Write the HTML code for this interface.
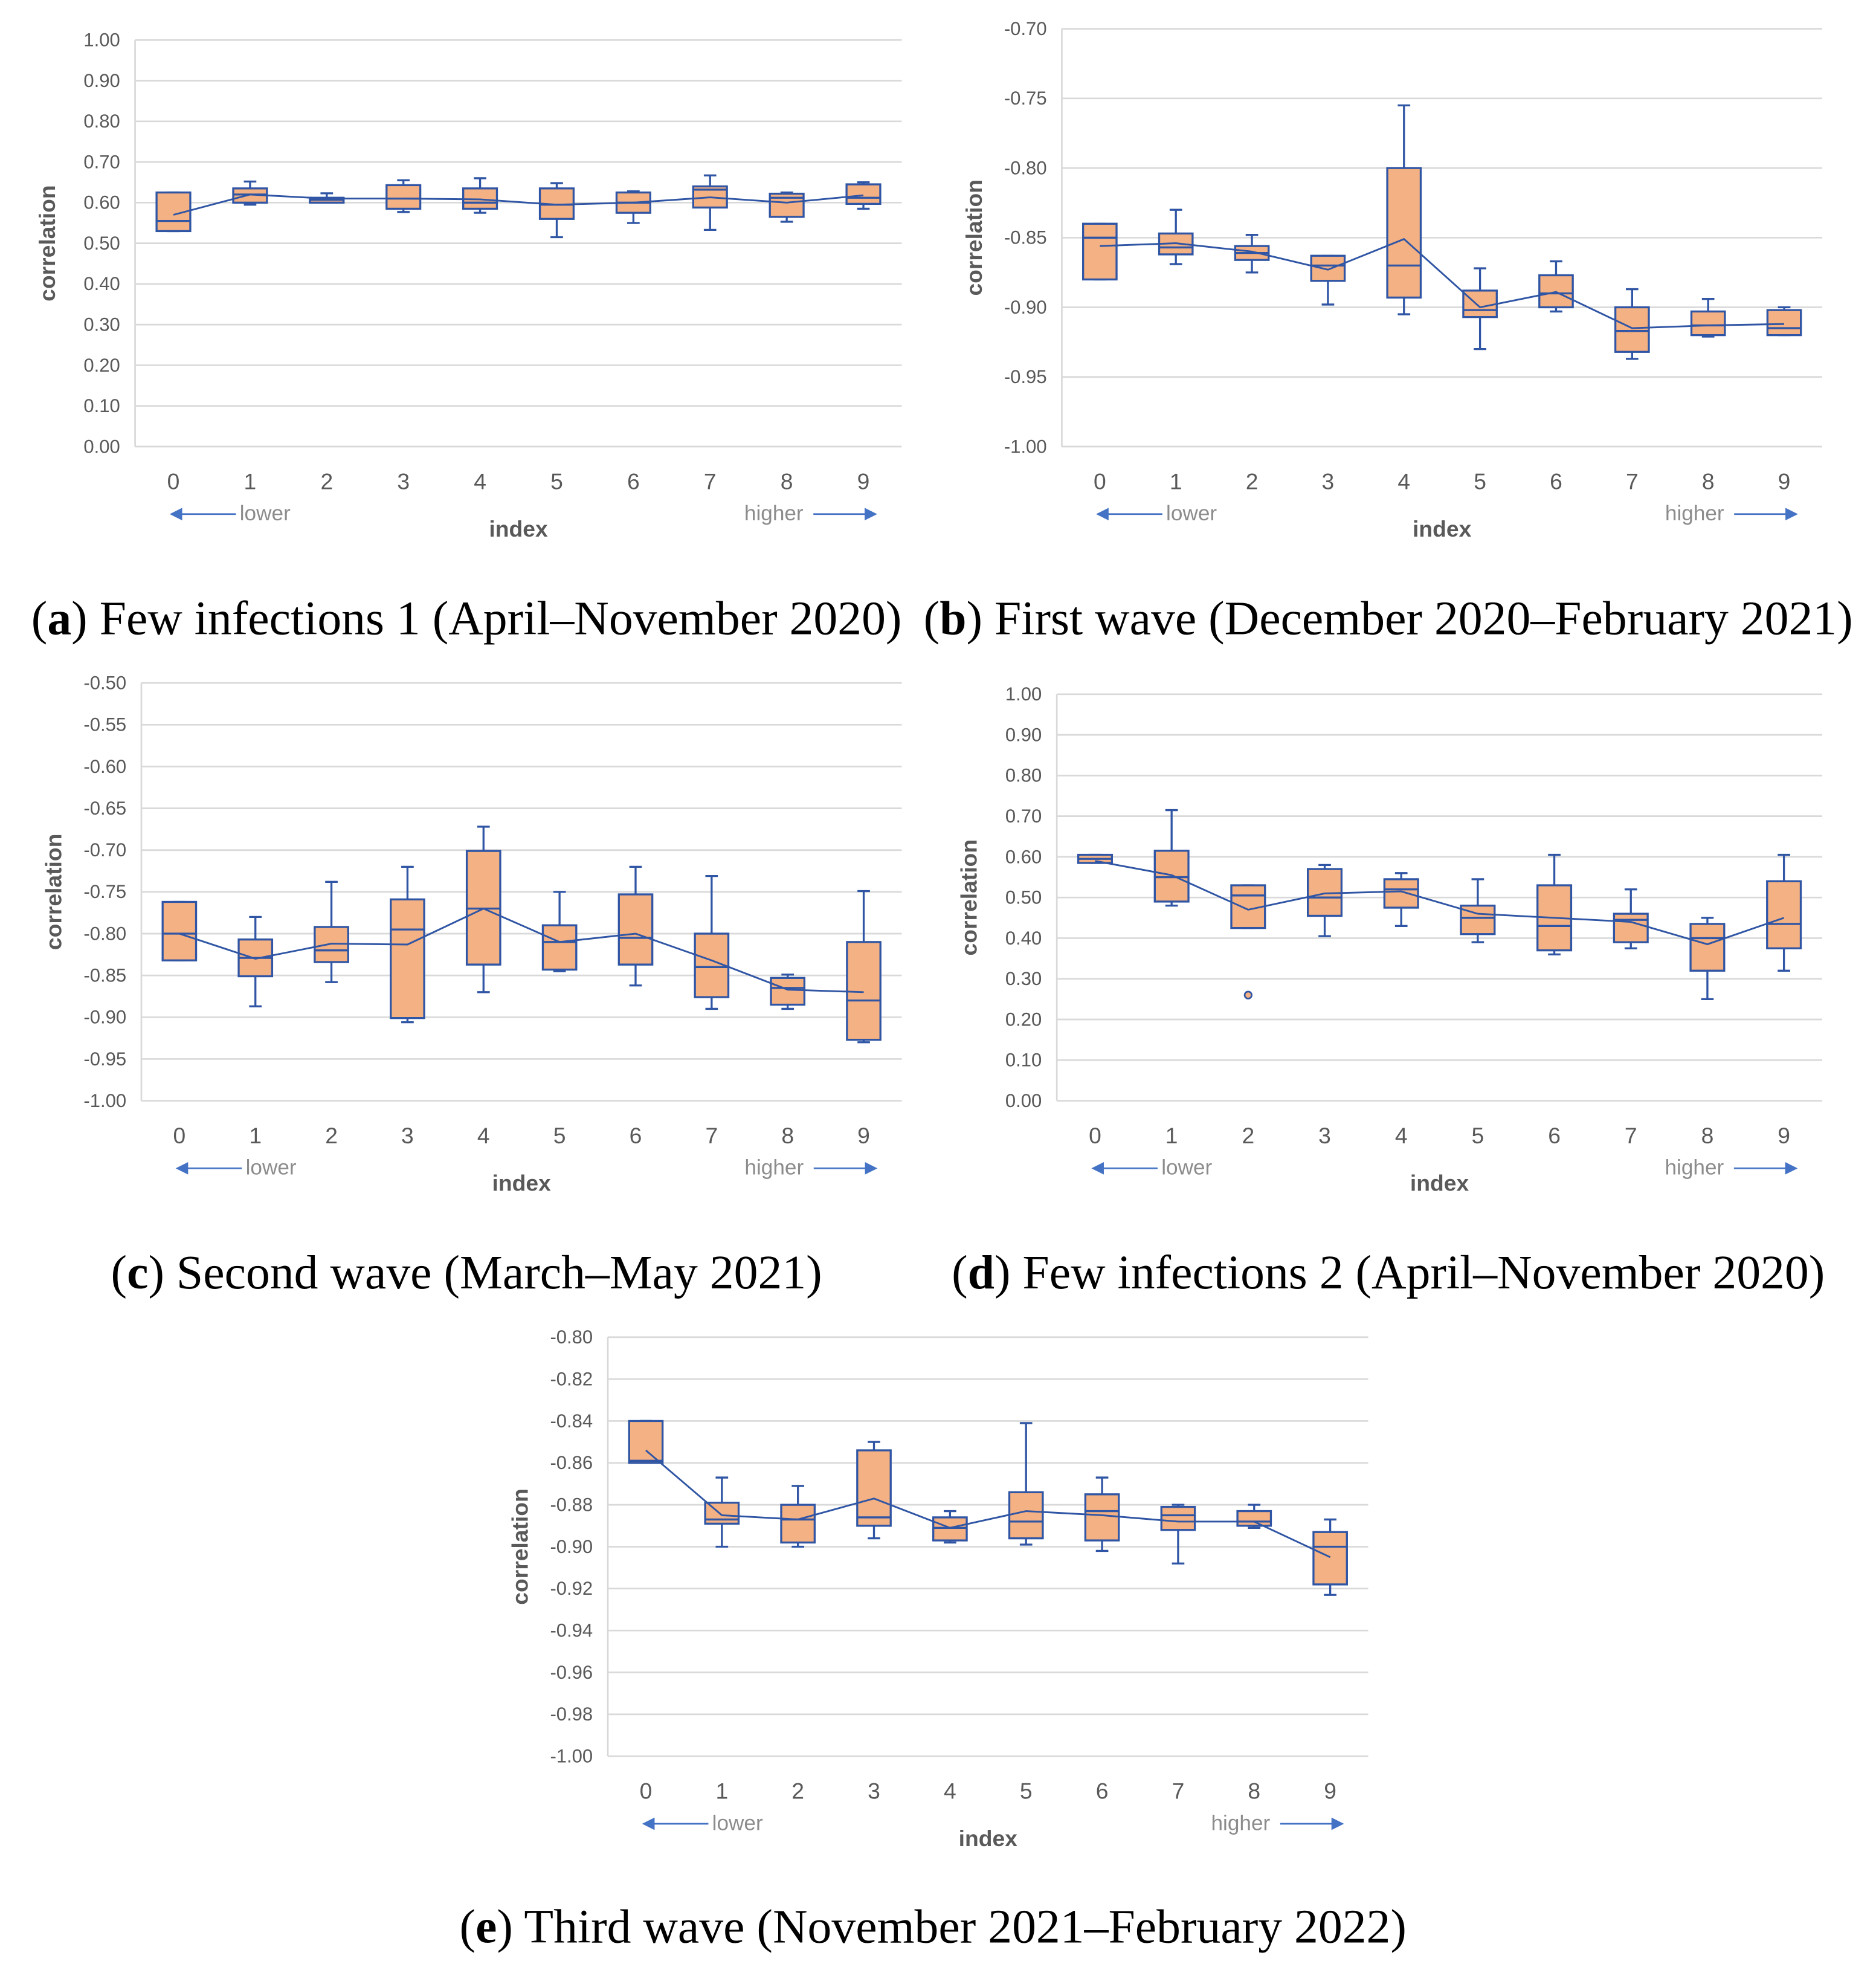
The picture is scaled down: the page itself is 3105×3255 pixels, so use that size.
<!DOCTYPE html>
<html><head><meta charset="utf-8"><style>
html,body{margin:0;padding:0;background:#fff}
svg{display:block}
.tick{font-family:"Liberation Sans",sans-serif;font-size:15px;fill:#595959}
.cat{font-family:"Liberation Sans",sans-serif;font-size:18px;fill:#595959}
.lh{font-family:"Liberation Sans",sans-serif;font-size:17px;fill:#8c8c8c}
.ax{font-family:"Liberation Sans",sans-serif;font-size:18px;font-weight:bold;fill:#595959}
.cap{font-family:"Liberation Serif",serif;font-size:38.5px;fill:#000}
</style></head><body>
<svg id="root" xmlns="http://www.w3.org/2000/svg" width="3105" height="3255" viewBox="0 0 1500 1572.5"></svg>
<script>
// ---- data arrays (min, q1, median, q3, max, mean) ----
const categories = [0,1,2,3,4,5,6,7,8,9];
const aMin=[.53,.595,.60,.577,.575,.515,.55,.533,.553,.585];
const aQ1=[.53,.60,.60,.585,.585,.56,.575,.588,.565,.597];
const aMed=[.555,.62,.607,.61,.60,.595,.60,.632,.612,.612];
const aQ3=[.625,.635,.612,.643,.635,.635,.625,.64,.622,.645];
const aMax=[.625,.652,.623,.655,.66,.648,.628,.667,.625,.65];
const aMean=[.57,.62,.61,.61,.608,.595,.60,.613,.60,.618];
const aTicks=["0.00","0.10","0.20","0.30","0.40","0.50","0.60","0.70","0.80","0.90","1.00"];

const bMin=[-.88,-.869,-.875,-.898,-.905,-.93,-.903,-.937,-.921,-.92];
const bQ1=[-.88,-.862,-.866,-.881,-.893,-.907,-.90,-.932,-.92,-.92];
const bMed=[-.85,-.857,-.861,-.87,-.87,-.902,-.89,-.917,-.913,-.915];
const bQ3=[-.84,-.847,-.856,-.863,-.80,-.888,-.877,-.90,-.903,-.902];
const bMax=[-.84,-.83,-.848,-.863,-.755,-.872,-.867,-.887,-.894,-.90];
const bMean=[-.856,-.854,-.860,-.873,-.851,-.90,-.889,-.915,-.913,-.912];
const bTicks=["-1.00","-0.95","-0.90","-0.85","-0.80","-0.75","-0.70"];

const cMin=[-.832,-.887,-.858,-.906,-.87,-.845,-.862,-.89,-.89,-.93];
const cQ1=[-.832,-.851,-.834,-.901,-.837,-.843,-.837,-.876,-.885,-.927];
const cMed=[-.80,-.829,-.82,-.795,-.77,-.81,-.805,-.84,-.865,-.88];
const cQ3=[-.762,-.807,-.792,-.759,-.701,-.79,-.753,-.80,-.853,-.81];
const cMax=[-.762,-.78,-.738,-.72,-.672,-.75,-.72,-.731,-.849,-.749];
const cMean=[-.80,-.83,-.812,-.813,-.77,-.81,-.80,-.832,-.867,-.87];
const cTicks=["-1.00","-0.95","-0.90","-0.85","-0.80","-0.75","-0.70","-0.65","-0.60","-0.55","-0.50"];

const dMin=[.585,.48,.425,.405,.43,.39,.36,.375,.25,.32];
const dQ1=[.585,.49,.425,.455,.475,.41,.37,.39,.32,.375];
const dMed=[.595,.55,.505,.50,.52,.45,.43,.445,.40,.435];
const dQ3=[.605,.615,.53,.57,.545,.48,.53,.46,.435,.54];
const dMax=[.605,.715,.53,.58,.56,.545,.605,.52,.45,.605];
const dMean=[.59,.555,.47,.51,.515,.46,.45,.44,.385,.45];
const dOutCat=[2];
const dOutVal=[.26];
const dTicks=aTicks;

const eMin=[-.86,-.90,-.90,-.896,-.898,-.899,-.902,-.908,-.891,-.923];
const eQ1=[-.86,-.889,-.898,-.89,-.897,-.896,-.897,-.892,-.89,-.918];
const eMed=[-.859,-.887,-.887,-.886,-.891,-.888,-.883,-.885,-.888,-.90];
const eQ3=[-.84,-.879,-.88,-.854,-.886,-.874,-.875,-.881,-.883,-.893];
const eMax=[-.84,-.867,-.871,-.85,-.883,-.841,-.867,-.88,-.88,-.887];
const eMean=[-.854,-.885,-.887,-.877,-.891,-.883,-.885,-.888,-.888,-.905];
const eTicks=["-1.00","-0.98","-0.96","-0.94","-0.92","-0.90","-0.88","-0.86","-0.84","-0.82","-0.80"];

const NS="http://www.w3.org/2000/svg";
const root=document.getElementById('root');
function mk(parent,tag,attrs,text){const e=document.createElementNS(NS,tag);for(const k in attrs)e.setAttribute(k,attrs[k]);if(text!==undefined)e.textContent=text;parent.appendChild(e);return e;}

function chart(id,box,yMin,yMax,ticks,mn,q1,md,q3,mx,mean,outC,outV,capLetter,capText,capX,capY){
  const g=mk(root,'g',{});
  
  
  const {x0,x1,yTop,yBot}=box;
  const Y=v=>yBot-(v-yMin)/(yMax-yMin)*(yBot-yTop);
  const step=(x1-x0)/categories.length;
  const X=i=>x0+step*(i+0.5);
  ticks.forEach(t=>{
    const v=parseFloat(t),y=Y(v);
    const gl=mk(g,'line',{x1:x0,x2:x1,y1:y,y2:y,stroke:'#d9d9d9','stroke-width':1.3});
    
    
    const tl=mk(g,'text',{x:x0-12,y:y+5,'text-anchor':'end',class:'tick'},t);
    
    
  });
  const ya=mk(g,'line',{x1:x0,x2:x0,y1:yTop,y2:yBot,stroke:'#d9d9d9','stroke-width':1.3});
  
  
  const yt=mk(g,'text',{transform:`translate(${x0-64},${(yTop+yBot)/2}) rotate(-90)`,'text-anchor':'middle',class:'ax'},'correlation');
  
  
  const bw=step*0.44;
  categories.forEach((c,i)=>{
    const cx=X(i);
    const bg=mk(g,'g',{stroke:'#2F55A4','stroke-width':1.6,fill:'none'});
    
    
    mk(bg,'line',{x1:cx,x2:cx,y1:Y(mx[i]),y2:Y(q3[i])});
    mk(bg,'line',{x1:cx,x2:cx,y1:Y(q1[i]),y2:Y(mn[i])});
    mk(bg,'line',{x1:cx-5,x2:cx+5,y1:Y(mx[i]),y2:Y(mx[i])});
    mk(bg,'line',{x1:cx-5,x2:cx+5,y1:Y(mn[i]),y2:Y(mn[i])});
    mk(bg,'rect',{x:cx-bw/2,y:Y(q3[i]),width:bw,height:Math.max(1,Y(q1[i])-Y(q3[i])),fill:'#F4B183'});
    mk(bg,'line',{x1:cx-bw/2,x2:cx+bw/2,y1:Y(md[i]),y2:Y(md[i])});
    const cl=mk(g,'text',{x:cx,y:yBot+34,'text-anchor':'middle',class:'cat'},String(c));
    
    
  });
  const pts=categories.map((c,i)=>X(i)+','+Y(mean[i])).join(' ');
  const ml=mk(g,'polyline',{points:pts,fill:'none',stroke:'#2F55A4','stroke-width':1.4});
  
  
  outC.forEach((c,k)=>{
    const o=mk(g,'circle',{cx:X(categories.indexOf(c)),cy:Y(outV[k]),r:2.8,fill:'#F4B183',stroke:'#2F55A4','stroke-width':1.3});
    
    
  });
  const ay=yBot+54, x0c=X(0), x9c=X(9);
  const la=mk(g,'g',{});
  
  
  mk(la,'line',{x1:x0c+4,x2:x0c+50,y1:ay,y2:ay,stroke:'#4472C4','stroke-width':1.3});
  mk(la,'polygon',{points:`${x0c-3},${ay} ${x0c+7},${ay-5} ${x0c+7},${ay+5}`,fill:'#4472C4'});
  mk(la,'text',{x:x0c+53,y:ay+5,class:'lh'},'lower');
  const ha=mk(g,'g',{});
  
  
  mk(ha,'line',{x1:x9c-40,x2:x9c+4,y1:ay,y2:ay,stroke:'#4472C4','stroke-width':1.3});
  mk(ha,'polygon',{points:`${x9c+11},${ay} ${x9c+1},${ay-5} ${x9c+1},${ay+5}`,fill:'#4472C4'});
  mk(ha,'text',{x:x9c-48,y:ay+5,'text-anchor':'end',class:'lh'},'higher');
  const xt=mk(g,'text',{x:(x0+x1)/2,y:yBot+72,'text-anchor':'middle',class:'ax'},'index');
  
  
  const cap=mk(root,'text',{x:capX,y:capY,'text-anchor':'middle',class:'cap'});
  
  
  mk(cap,'tspan',{},'(');
  mk(cap,'tspan',{'font-weight':'bold'},capLetter);
  mk(cap,'tspan',{},') '+capText);
}
chart('a',{x0:108,x1:721,yTop:32,yBot:357},0,1,aTicks,aMin,aQ1,aMed,aQ3,aMax,aMean,[],[],'a','Few infections 1 (April–November 2020)',373,507);
chart('b',{x0:849,x1:1457,yTop:23,yBot:357},-1,-0.7,bTicks,bMin,bQ1,bMed,bQ3,bMax,bMean,[],[],'b','First wave (December 2020–February 2021)',1110,507);
chart('c',{x0:113,x1:721,yTop:546,yBot:880},-1,-0.5,cTicks,cMin,cQ1,cMed,cQ3,cMax,cMean,[],[],'c','Second wave (March–May 2021)',373,1030);
chart('d',{x0:845,x1:1457,yTop:555,yBot:880},0,1,dTicks,dMin,dQ1,dMed,dQ3,dMax,dMean,dOutCat,dOutVal,'d','Few infections 2 (April–November 2020)',1110,1030);
chart('e',{x0:486,x1:1094,yTop:1069,yBot:1404},-1,-0.8,eTicks,eMin,eQ1,eMed,eQ3,eMax,eMean,[],[],'e','Third wave (November 2021–February 2022)',746,1553);
</script>
</body></html>
